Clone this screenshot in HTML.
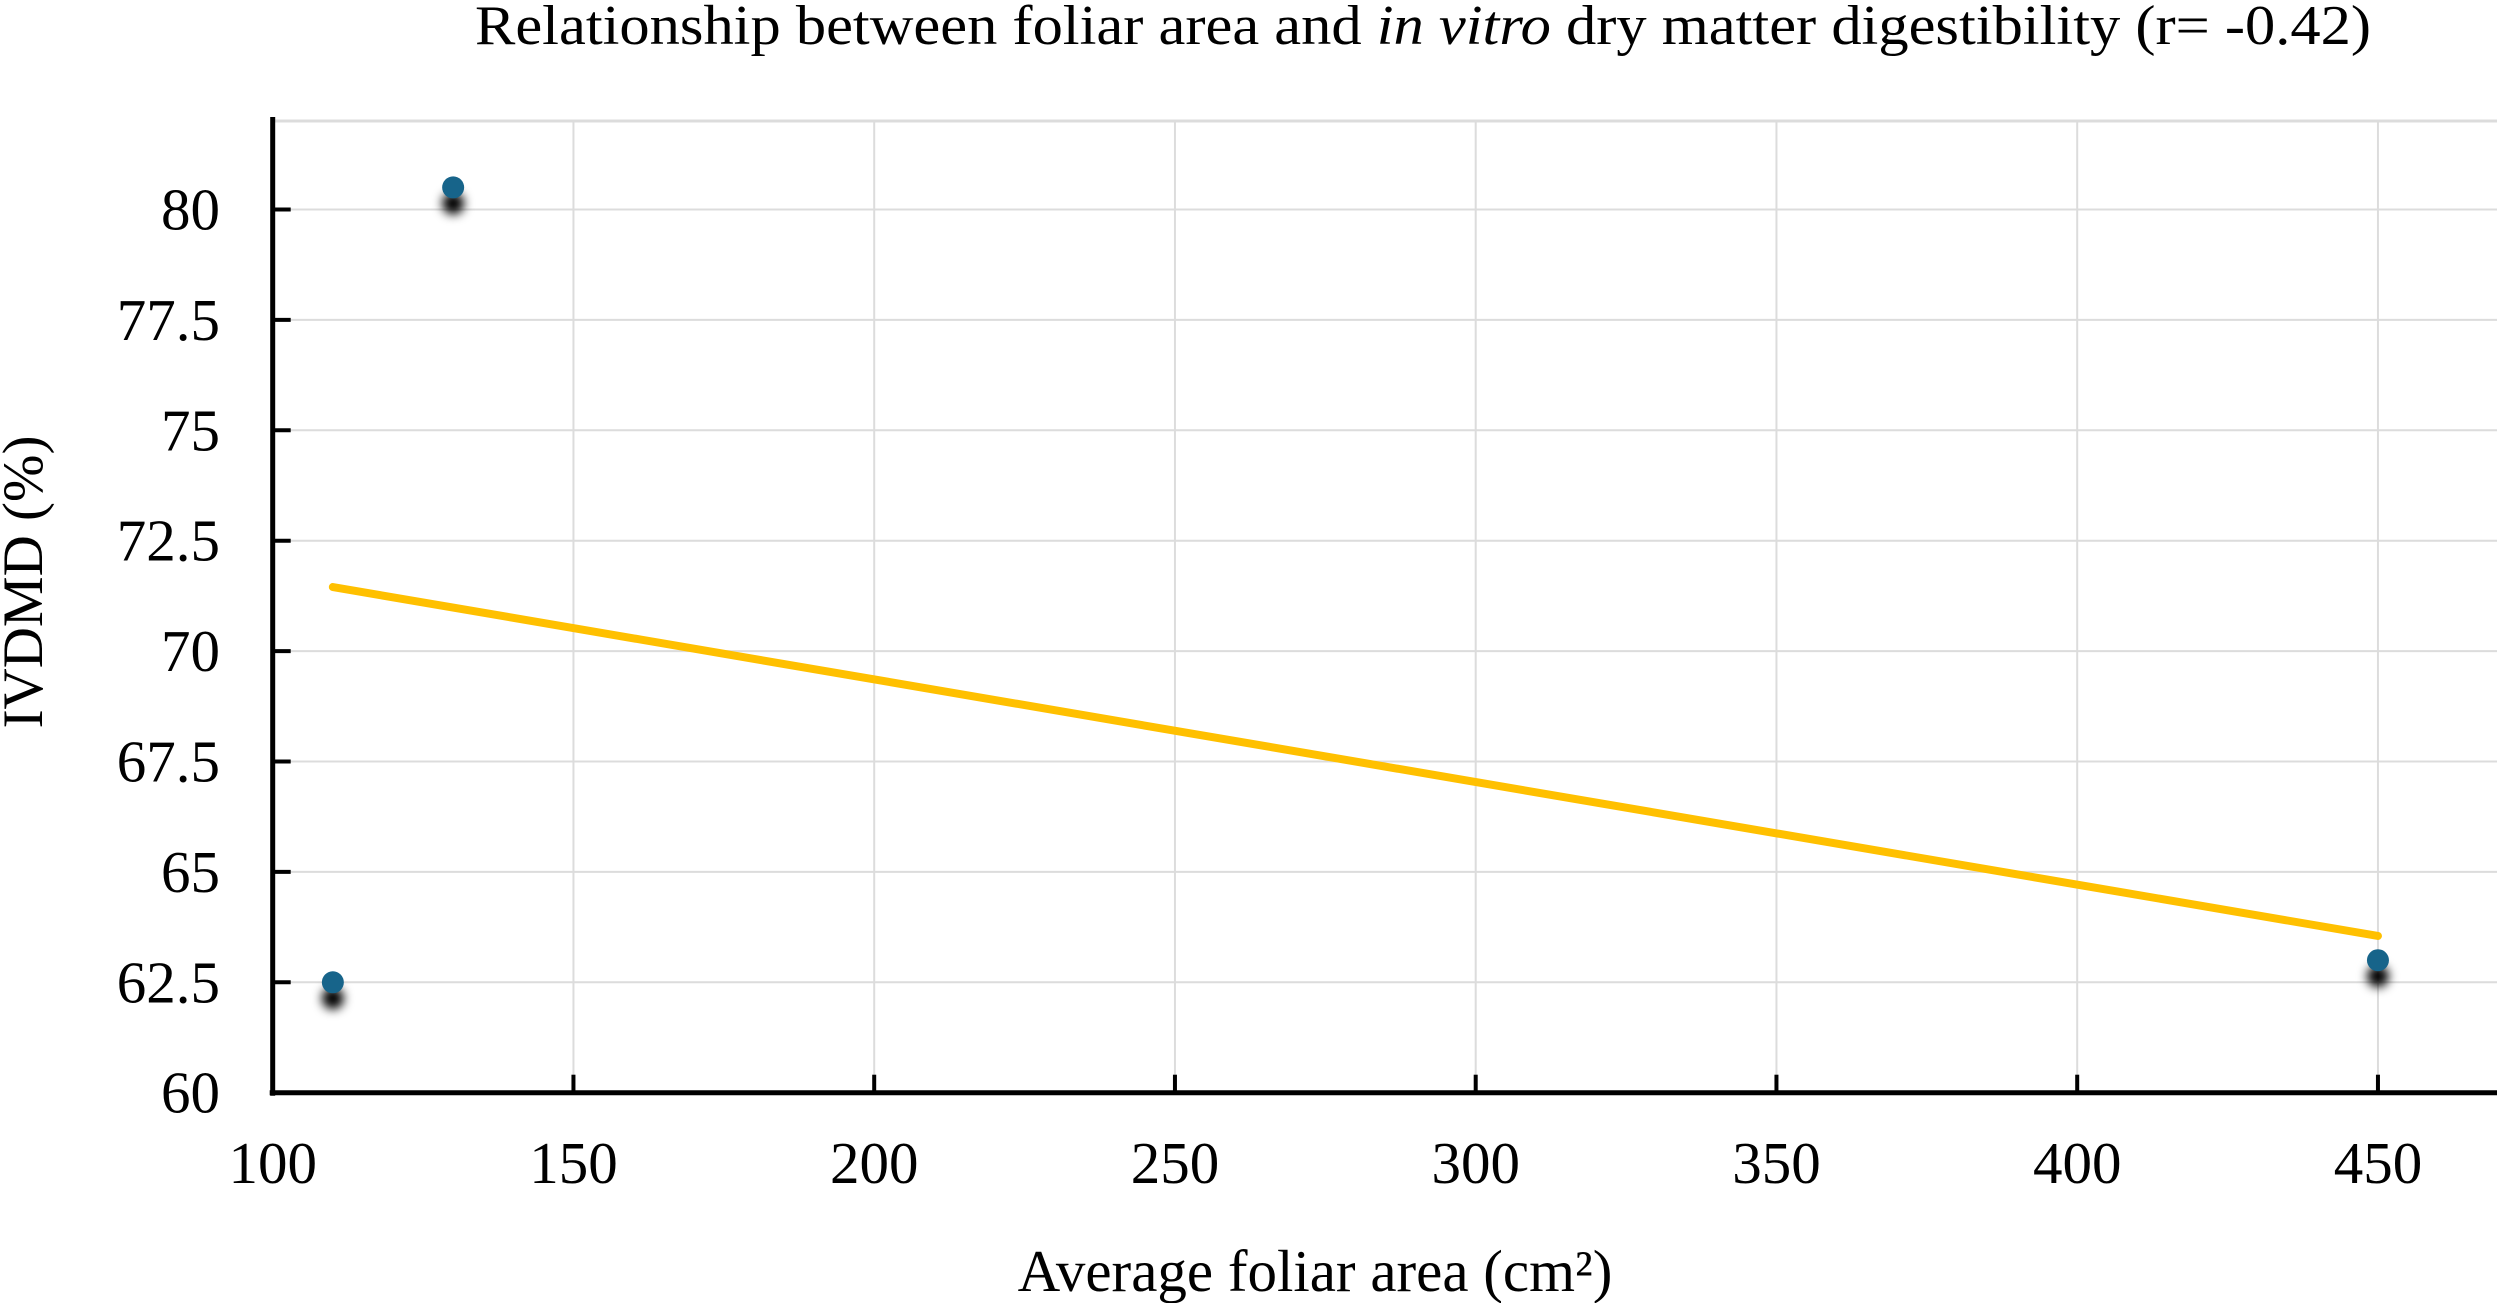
<!DOCTYPE html>
<html><head><meta charset="utf-8"><style>
html,body{margin:0;padding:0;background:#fff;}
svg{display:block;font-family:"Liberation Serif",serif;}
</style></head><body>
<svg id="chart" width="2500" height="1303" viewBox="0 0 2500 1303">
<defs><filter id="sh" x="-1" y="-1" width="3" height="3"><feGaussianBlur stdDeviation="5"/></filter></defs>
<text x="1423" y="44" font-size="56" text-anchor="middle" textLength="1896" lengthAdjust="spacingAndGlyphs">Relationship between foliar area and <tspan font-style="italic">in vitro</tspan> dry matter digestibility (r= -0.42)</text>
<g id="grid"></g><g id="axes"></g><g id="marks"></g>
<text transform="translate(42,582) rotate(-90)" font-size="57" text-anchor="middle">IVDMD (%)</text>
<text x="1315" y="1291" font-size="59" text-anchor="middle">Average foliar area (cm²)</text>
</svg>
<script>
const xVals = [110, 130, 450];
const yVals = [62.5, 80.5, 63.0];
const trendX = [110, 450];
const trendY = [71.45, 63.55];
const xTicks = [100, 150, 200, 250, 300, 350, 400, 450];
const yTicks = [60, 62.5, 65, 67.5, 70, 72.5, 75, 77.5, 80];
const yTickLabels = ["60","62.5","65","67.5","70","72.5","75","77.5","80"];

(function(){
const NS = "http://www.w3.org/2000/svg";
const X0 = 272.7, XPX = 6.015, Y0 = 1092.7, YPX = 44.16, PTOP = 121, PRIGHT = 2497;
const sx = v => X0 + (v - 100) * XPX;
const sy = v => Y0 - (v - 60) * YPX;
function mk(tag, attrs, parent){const e=document.createElementNS(NS,tag);for(const k in attrs)e.setAttribute(k,attrs[k]);parent.appendChild(e);return e;}
const grid=document.getElementById('grid'), axes=document.getElementById('axes'), marks=document.getElementById('marks');

const topBorder = mk('line',{x1:X0,x2:PRIGHT,y1:PTOP,y2:PTOP,stroke:'#dcdcdc','stroke-width':3},grid);


xTicks.forEach(t=>{
  if(t>100){
    const g=mk('line',{x1:sx(t),x2:sx(t),y1:PTOP,y2:Y0,stroke:'#dcdcdc','stroke-width':2},grid);
    
    
    const tk=mk('line',{x1:sx(t),x2:sx(t),y1:Y0,y2:Y0-18,stroke:'#000','stroke-width':4},axes);
    
    
  }
  const l=mk('text',{x:sx(t),y:1183,'font-size':59,'text-anchor':'middle'},axes);
  l.textContent=t;
  
  
});
yTicks.forEach((t,i)=>{
  if(t>60){
    const g=mk('line',{x1:X0,x2:PRIGHT,y1:sy(t),y2:sy(t),stroke:'#dcdcdc','stroke-width':2},grid);
    
    
    const tk=mk('line',{x1:X0,x2:X0+18,y1:sy(t),y2:sy(t),stroke:'#000','stroke-width':4},axes);
    
    
  }
  const l=mk('text',{x:220,y:sy(t)+20,'font-size':59,'text-anchor':'end'},axes);
  l.textContent=yTickLabels[i];
  
  
});
const ya=mk('line',{x1:X0,x2:X0,y1:PTOP-4,y2:Y0+3,stroke:'#000','stroke-width':5},axes);


const xa=mk('line',{x1:X0-3,x2:PRIGHT,y1:Y0,y2:Y0,stroke:'#000','stroke-width':5},axes);



const tl=mk('line',{x1:sx(trendX[0]),y1:sy(trendY[0]),x2:sx(trendX[1]),y2:sy(trendY[1]),stroke:'#FFC000','stroke-width':8,'stroke-linecap':'round'},marks);


xVals.forEach((v,i)=>{
  const s=mk('circle',{cx:sx(v),cy:sy(yVals[i])+16,r:11,fill:'#000',filter:'url(#sh)'},marks);
  
  
  const c=mk('circle',{cx:sx(v),cy:sy(yVals[i]),r:11,fill:'#17648A'},marks);
  
  
});
})();
</script>
</body></html>
